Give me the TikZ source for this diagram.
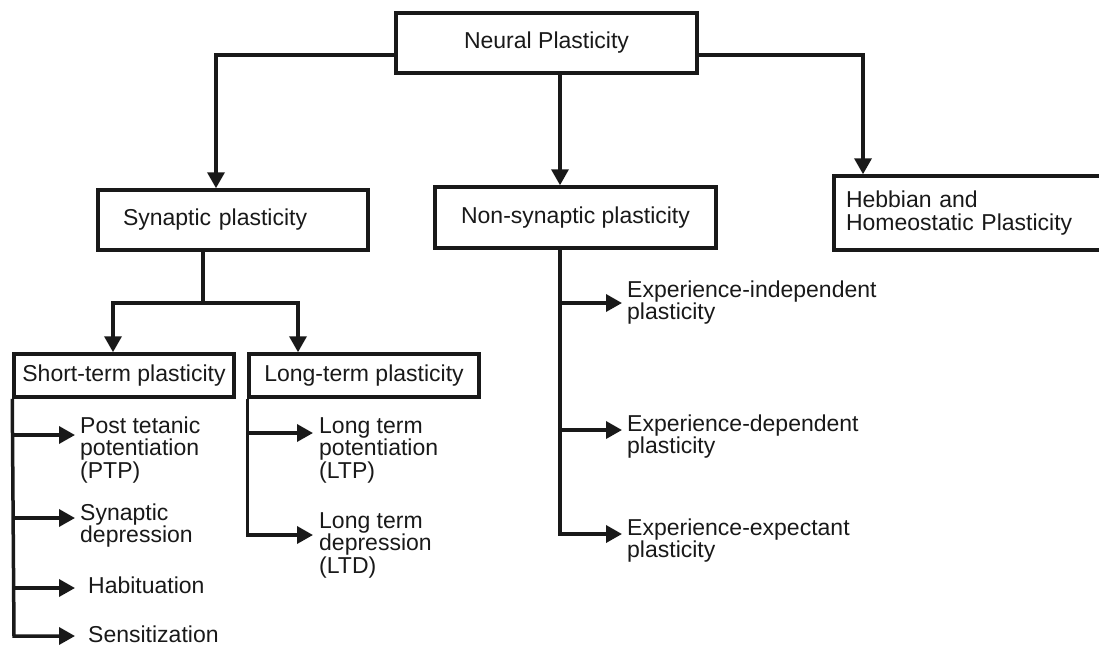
\documentclass[tikz,border=0pt]{standalone}
\usepackage{fontspec}
\setmainfont{Liberation Sans}
\usetikzlibrary{arrows.meta}
\begin{document}
\begin{tikzpicture}[x=1pt,y=-1pt,
  every node/.style={font=\fontsize{23}{22.5}\selectfont, text=black!90},
  box/.style={draw=black!90, line width=3.5pt, inner sep=0pt},
  con/.style={draw=black!90, line width=3.5pt},
  arr/.style={con, -{Triangle[length=16pt,width=17pt]}},
  lbl/.style={align=left, inner ysep=0pt, inner xsep=5pt, anchor=west}]
\useasboundingbox (0,0) rectangle (1099,646);
\clip (0,0) rectangle (1099,646);

% boxes
\node[box, minimum width=301pt, minimum height=60pt] (np) at (546.5,43) {Neural Plasticity};
\node[box, minimum height=60pt, text width=220pt, inner xsep=25pt, align=left] (syn) at (233,220) {Synaptic plasticity};
\node[box, minimum width=281pt, minimum height=61pt] (nsyn) at (575.5,217.5) {Non-synaptic plasticity};
\node[box, minimum height=74pt, text width=250pt, inner xsep=12pt, align=left] (heb) at (971,213) {Hebbian and\\Homeostatic Plasticity};
\node[box, minimum width=220pt, minimum height=43pt] (stp) at (124,375.5) {Short-term plasticity};
\node[box, minimum width=230pt, minimum height=43pt] (ltp) at (364,375.5) {Long-term plasticity};

% labels
\node[lbl] (ptp) at (75,450) {Post tetanic\\potentiation\\(PTP)};
\node[lbl] (sdep) at (75,525.5) {Synaptic\\depression};
\node[lbl, inner xsep=13pt] (hab) at (75,585) {Habituation};
\node[lbl, inner xsep=13pt] (sens) at (75,634) {Sensitization};
\node[lbl, inner xsep=6pt] (ltpl) at (313,450) {Long term\\potentiation\\(LTP)};
\node[lbl, inner xsep=6pt] (ltdl) at (313,545) {Long term\\depression\\(LTD)};
\node[lbl] (ei) at (622,302.5) {Experience-independent\\plasticity};
\node[lbl] (ed) at (622,436.5) {Experience-dependent\\plasticity};
\node[lbl] (ee) at (622,540.5) {Experience-expectant\\plasticity};

% top level connectors
\draw[arr] (np.west |- 0,55) -| (syn.north -| 216,0);
\draw[arr] (np.south -| 560,0) -- (nsyn.north -| 560,0);
\draw[arr] (np.east |- 0,55) -| (heb.north -| 863,0);

% synaptic split
\coordinate (sj) at (203,303);
\draw[con] (syn.south -| sj) -- (sj);
\draw[arr] (sj) -| (stp.north -| 113,0);
\draw[arr] (sj) -| (ltp.north -| 298,0);

% short-term branches
\coordinate (sb) at (14,636);
\draw[arr] (stp.south west) -- (sb) -- (sens.west |- sb);
\draw[arr] (stp.south west |- 0,435) -- (ptp.west |- 0,435);
\draw[arr] (stp.south west |- 0,518) -- (sdep.west |- 0,518);
\draw[arr] (stp.south west |- 0,588) -- (hab.west |- 0,588);

% long-term branches
\draw[arr] (ltp.south west) |- (ltdl.west |- 0,535);
\draw[arr] (ltp.south west |- 0,433) -- (ltpl.west |- 0,433);

% non-synaptic branches
\coordinate (n1) at (560,303);
\coordinate (n2) at (560,430);
\draw[arr] (nsyn.south -| 560,0) |- (ee.west |- 0,534);
\draw[arr] (n1) -- (ei.west |- n1);
\draw[arr] (n2) -- (ed.west |- n2);
\end{tikzpicture}
\end{document}
